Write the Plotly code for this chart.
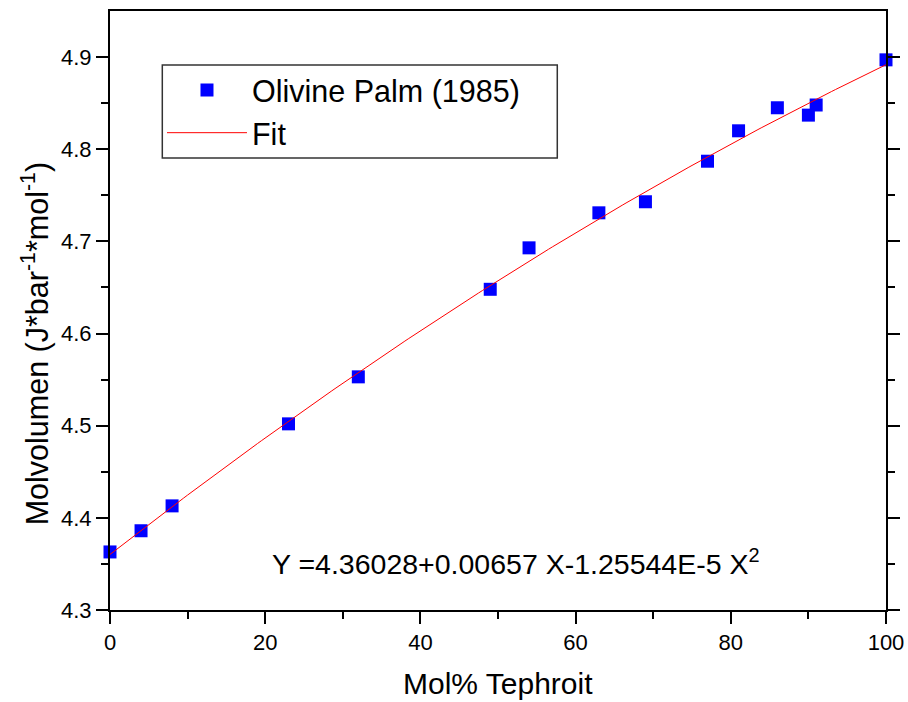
import numpy as np
import plotly.graph_objects as go

# Measured molar volumes of olivine along the Fo-Te join
mol_pct_tephroit = [0, 4, 8, 23, 32, 49, 54, 63, 69, 77, 81, 86, 90, 91, 100]
molvolumen = [4.363, 4.386, 4.413, 4.502, 4.553, 4.648, 4.693, 4.731, 4.743,
              4.787, 4.820, 4.845, 4.837, 4.848, 4.897]

# Quadratic fit coefficients (a0, a1, a2)
fit_coef = [4.36028, 0.00657, -1.25544e-5]

x_ticks = [0, 20, 40, 60, 80, 100]
y_ticks = [4.3, 4.4, 4.5, 4.6, 4.7, 4.8, 4.9]
y_ticklabels = ["4.3", "4.4", "4.5", "4.6", "4.7", "4.8", "4.9"]

x_fit = np.linspace(0, 100, 201)
y_fit = fit_coef[0] + fit_coef[1] * x_fit + fit_coef[2] * x_fit ** 2

FONT = "Arial, 'Liberation Sans', sans-serif"

fig = go.Figure()
fig.add_trace(go.Scatter(
    x=mol_pct_tephroit, y=molvolumen, mode="markers",
    name="Olivine Palm (1985)",
    marker=dict(symbol="square", size=13, color="#0000ff",
                line=dict(width=0)),
    cliponaxis=False,
))
fig.add_trace(go.Scatter(
    x=x_fit, y=y_fit, mode="lines", name="Fit",
    line=dict(color="#ff0000", width=1),
))

axis_common = dict(
    showgrid=False, zeroline=False, showline=True, linecolor="black",
    linewidth=2, ticks="outside", ticklen=12, tickwidth=2, tickcolor="black",
    tickfont=dict(family=FONT, size=22, color="black"), automargin=False,
)

fig.update_xaxes(
    range=[0, 100], tickvals=x_ticks, mirror=True,
    minor=dict(tickvals=[10, 30, 50, 70, 90], ticklen=7, tickwidth=2,
               ticks="outside", tickcolor="black"),
    **axis_common,
)
fig.update_yaxes(
    range=[4.3, 4.95], tickvals=y_ticks, ticktext=y_ticklabels, mirror="ticks",
    minor=dict(tickvals=[4.35, 4.45, 4.55, 4.65, 4.75, 4.85], ticklen=7,
               tickwidth=2, ticks="outside", tickcolor="black"),
    **axis_common,
)

# Axis titles
fig.add_annotation(
    x=0.5, y=-0.1235, xref="paper", yref="paper", xanchor="center",
    yanchor="middle", text="Mol% Tephroit", showarrow=False,
    font=dict(family=FONT, size=30, color="black"),
)
fig.add_annotation(
    x=-0.0963, y=0.444, xref="paper", yref="paper", xanchor="center",
    yanchor="middle", textangle=-90,
    text="Molvolumen (J*bar<sup>-1</sup>*mol<sup>-1</sup>)", showarrow=False,
    font=dict(family=FONT, size=30.5, color="black"),
)

# Fit equation
fig.add_annotation(
    x=0.206, y=0.08, xref="paper", yref="paper", xanchor="left", yanchor="middle",
    text="Y =4.36028+0.00657 X-1.25544E-5 X<sup>2</sup>", showarrow=False,
    font=dict(family=FONT, size=28.5, color="black"),
)

# Legend frame
fig.add_shape(
    type="rect", xref="paper", yref="paper",
    x0=0.0674, x1=0.5764, y0=0.7546, y1=0.9098,
    line=dict(color="#333333", width=1.5), fillcolor="rgba(0,0,0,0)",
)

fig.update_layout(
    width=908, height=702,
    margin=dict(l=110, r=22, t=11, b=92),
    paper_bgcolor="white", plot_bgcolor="white",
    showlegend=True,
    legend=dict(
        x=0.067, y=0.912, xanchor="left", yanchor="top",
        borderwidth=0, bgcolor="rgba(0,0,0,0)",
        font=dict(family=FONT, size=30.5, color="black"),
        itemwidth=80, tracegroupgap=0,
    ),
)

fig.write_html("out.html")
